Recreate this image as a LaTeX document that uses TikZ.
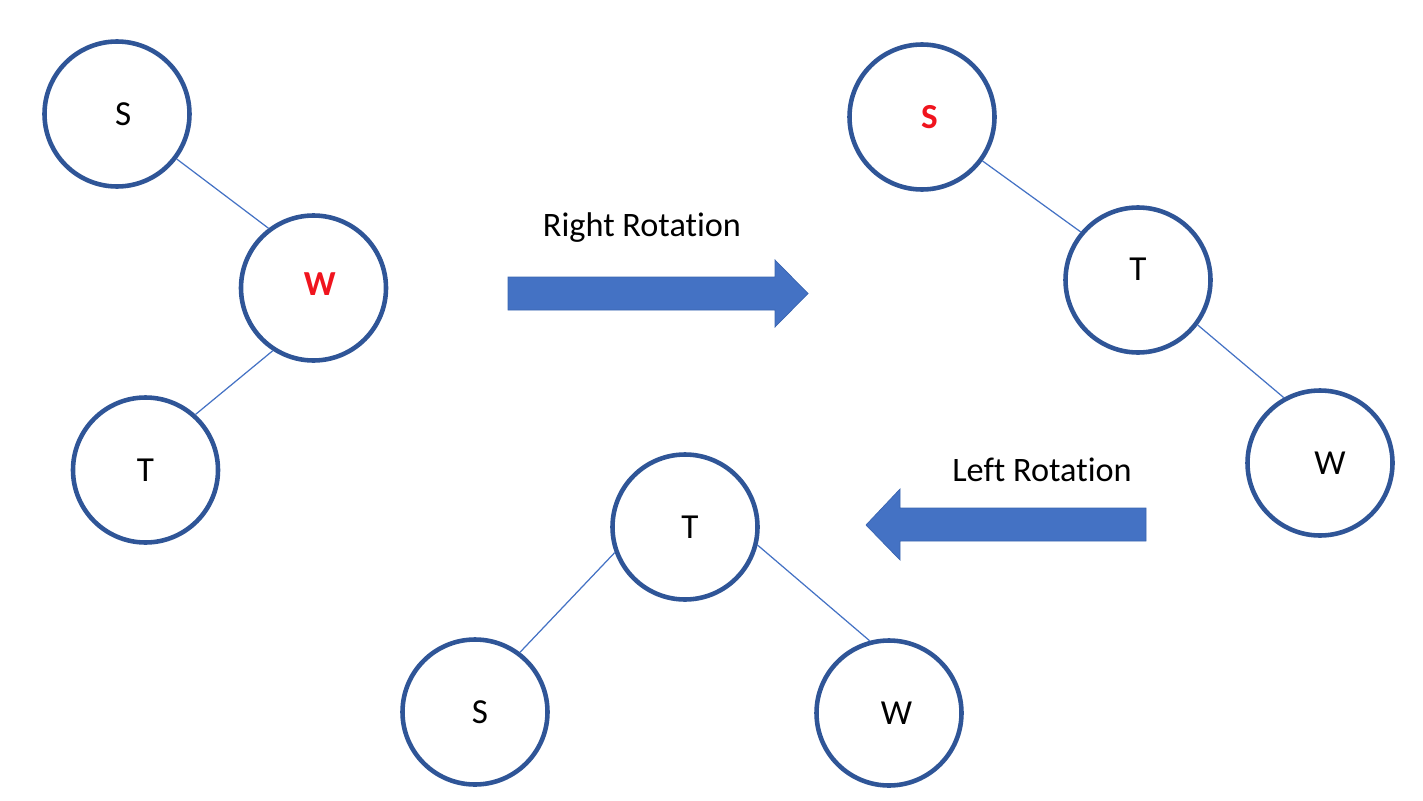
\documentclass[tikz,border=0pt]{standalone}
\usepackage{fontspec}
\setmainfont[Ligatures=NoCommon]{Carlito}
\definecolor{ringBlue}{HTML}{2F5597}
\definecolor{edgeBlue}{HTML}{4472C4}
\definecolor{arrowFill}{HTML}{4472C4}
\definecolor{arrowLine}{HTML}{3A65B0}
\definecolor{keyRed}{HTML}{F0141E}
\usepackage{tikz}
\usetikzlibrary{calc, positioning}

\tikzset{
  treenode/.style={circle, draw=ringBlue, line width=2.6pt, fill=white,
                   minimum size=2.9cm, inner sep=0pt, font=\fontsize{20}{23}\selectfont},
  hotnode/.style={treenode, text=keyRed, font=\fontsize{20}{23}\selectfont\bfseries},
  treeedge/.style={draw=edgeBlue, line width=0.7pt},
  blockarrow/.style={fill=arrowFill, draw=arrowLine, line width=0.4pt},
  caption/.style={font=\fontsize{19.5}{23}\selectfont, inner sep=0pt}
}

\begin{document}
\begin{tikzpicture}
  \useasboundingbox (0,0) rectangle (28.46,-16.02);

  % before: S -> W -> T
  \node[treenode] (s1) at (2.34,-2.28) {\hspace{0.25cm}S};
  \node[hotnode]  (w1) at (6.27,-5.76) {\hspace{0.25cm}\raisebox{0.14cm}{W}};
  \node[treenode] (t1) at (2.91,-9.40) {T};
  \draw[treeedge] (s1.-37) -- (w1.127);
  \draw[treeedge] (w1.-123) -- (t1.48);

  % after right rotation: S -> T -> W
  \node[hotnode]  (s2) at (18.44,-2.34) {\hspace{0.3cm}S};
  \node[treenode] (t2) at (22.76,-5.60) {\raisebox{0.45cm}{T}};
  \node[treenode] (w2) at (26.40,-9.26) {\hspace{0.4cm}W};
  \draw[treeedge] (s2.-36) -- (t2.140);
  \draw[treeedge] (t2.-37) -- (w2.119);

  % after left rotation: T with S and W
  \node[treenode] (t3) at (13.70,-10.54) {\hspace{0.2cm}T};
  \node[treenode] (s3) at (9.50,-14.24)  {\hspace{0.2cm}S};
  \node[treenode] (w3) at (17.78,-14.26) {\hspace{0.3cm}W};
  \draw[treeedge] (t3.200) -- (s3.53);
  \draw[treeedge] (t3.-14) -- (w3.105);

  % rotation arrows
  \node[caption] (rightcap) at (12.84,-4.56) {Right Rotation};
  \draw[blockarrow] (10.16,-5.54) -- (15.5,-5.54) -- (15.5,-5.20) -- (16.16,-5.87)
    -- (15.5,-6.54) -- (15.5,-6.20) -- (10.16,-6.20) -- cycle;

  \node[caption] (leftcap) at (20.84,-9.40) {Left Rotation};
  \draw[blockarrow] (22.92,-10.16) -- (18.0,-10.16) -- (18.0,-9.78) -- (17.32,-10.5)
    -- (18.0,-11.2) -- (18.0,-10.82) -- (22.92,-10.82) -- cycle;
\end{tikzpicture}
\end{document}
